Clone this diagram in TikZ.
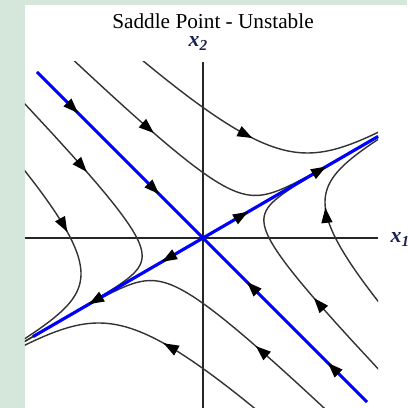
\documentclass[tikz,border=0pt]{standalone}
\usepackage{fontspec}
\setmainfont{Liberation Serif}
\usetikzlibrary{arrows.meta}

\definecolor{panelgreen}{HTML}{D5E6DA}
\definecolor{labelnavy}{HTML}{1A2150}

\begin{document}
\begin{tikzpicture}[
    traj/.style={black!80, line width=0.4pt},
    eigen/.style={blue, line width=0.9pt},
    axis/.style={black!85, line width=0.55pt},
    tip/.style={-{Triangle[length=0.15cm, width=0.11cm]}, line width=0.35pt, black},
    axlabel/.style={font=\fontsize{6.2pt}{7pt}\selectfont\bfseries\itshape, text=labelnavy, inner sep=0pt},
]

    % Define parameters (eigen-directions and eigenvalue ratio)
    \pgfmathsetmacro{\slope}{0.58}  % slope of the unstable direction
    \pgfmathsetmacro{\ratio}{4.5}   % decay rate / growth rate

    % --- 1. Background and panel ---
    \useasboundingbox (-2.03,-1.70) rectangle (2.04,2.38);
    \fill[panelgreen] (-2.03,-1.70) rectangle (2.04,2.38);
    \fill[white] (-1.78,-1.70) rectangle (2.04,2.33);

    % --- 2. Axes ---
    \coordinate (O) at (0,0);
    \coordinate (XL) at (-1.78,0);
    \coordinate (XR) at (1.75,0);
    \coordinate (YB) at (0,-1.70);
    \coordinate (YT) at (0,1.76);
    \draw[axis] (XL) -- (XR);
    \draw[axis] (YB) -- (YT);

    \node[font=\fontsize{6.05pt}{7pt}\selectfont, anchor=base, inner sep=0pt] (title) at (0.10,2.09) {Saddle Point - Unstable};
    \node[axlabel, anchor=base west] (xtwo) at (-0.15,1.91) {x\textsubscript{2}};
    \node[axlabel, anchor=base west] (xone) at (1.87,-0.05) {x\textsubscript{1}};

    % --- 3. Trajectories: point = a*(1,slope) + b*(1,-1), |b| = K |a|^(-ratio) ---
    \begin{scope}
    \clip (-1.78,-1.70) rectangle (1.75,1.76);
    \foreach \sa/\sb/\K/\tmin/\ta in {
        1/-1/0.0078/0.29/0.353,  1/-1/0.35/0.70/0.945,
        -1/-1/0.0048/0.27/0.317, -1/-1/0.22/0.68/0.82,
        -1/1/0.0078/0.29/0.350,  -1/1/0.35/0.70/0.915,
        1/1/0.0048/0.27/0.322,   1/1/0.22/0.68/0.965} {
        \draw[traj] plot[domain=\tmin:1.85, samples=140, variable=\t]
            ({(\sa)*\t + (\sb)*\K*\t^(-\ratio)}, {\slope*(\sa)*\t - (\sb)*\K*\t^(-\ratio)});
        \pgfmathsetmacro{\tb}{\ta-0.002}
        \draw[tip] ({(\sa)*\tb + (\sb)*\K*\tb^(-\ratio)}, {\slope*(\sa)*\tb - (\sb)*\K*\tb^(-\ratio)})
            -- ({(\sa)*\ta + (\sb)*\K*\ta^(-\ratio)}, {\slope*(\sa)*\ta - (\sb)*\K*\ta^(-\ratio)});
    }
    \end{scope}

    % --- 4. Eigen-directions ---
    \coordinate (S1) at (-1.66,1.66);    % stable, upper left
    \coordinate (S2) at (1.64,-1.64);    % stable, lower right
    \coordinate (U1) at (-1.70,-1.70*\slope); % unstable, lower left
    \coordinate (U2) at (1.75,1.75*\slope);   % unstable, upper right
    \draw[eigen] (S1) -- (S2);
    \draw[eigen] (U1) -- (U2);

    % arrows on the stable line (towards O)
    \foreach \p in {-1.25, -0.44} {
        \draw[tip] (\p-0.01,-\p+0.01) -- (\p,-\p);
        \draw[tip] (-\p+0.01,\p-0.01) -- (-\p,\p);
    }
    % arrows on the unstable line (away from O)
    \foreach \p in {0.45, 1.23} {
        \draw[tip] (\p-0.01,{(\p-0.01)*\slope}) -- (\p,{\p*\slope});
    }
    \foreach \p in {-0.41, -1.14} {
        \draw[tip] (\p+0.01,{(\p+0.01)*\slope}) -- (\p,{\p*\slope});
    }

\end{tikzpicture}
\end{document}
